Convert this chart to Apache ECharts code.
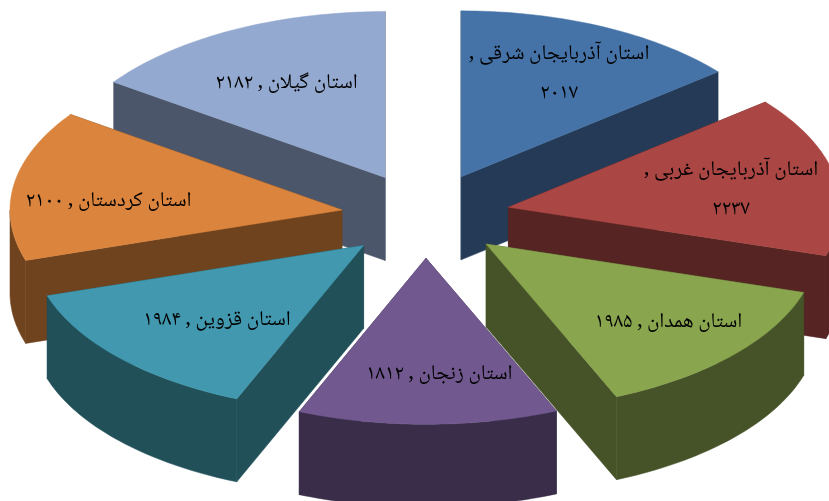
<!DOCTYPE html>
<html lang="fa">
<head>
<meta charset="utf-8">
<style>html,body{margin:0;padding:0;background:#fff}#c{width:829px;height:501px}</style>
<script src="https://cdn.jsdelivr.net/npm/echarts@6/dist/echarts.min.js"></script>
</head>
<body>
<div id="c"></div>
<script>
const provinces = ['استان آذربایجان شرقی','استان آذربایجان غربی','استان همدان','استان زنجان','استان قزوین','استان کردستان','استان گیلان'];
const values = [2017,2237,1985,1812,1984,2100,2182];
const wrapped = [true,true,false,false,false,false,false];
const topColors = ['#4573A7','#AA4643','#89A54E','#71588F','#4198AF','#DB843D','#93A9CF'];
const sideColors = ['#243A57','#562422','#465328','#392D49','#215059','#70431F','#4C566A'];
// layout nudges in pixels, one per slice
const labelNudge = [[0,2],[-2,7],[10,4],[13,4],[24,0],[-5,12],[7,9]];
const sliceNudge = [[0,0],[0,0],[-2,0],[1,0],[2,1],[2,1],[0,0]];

const CX = 424.5, CY = 215.5, RX = 332, RY = 166, DEPTH = 83, EXPLODE = 85.5, LABEL_K = 0.69;
const total = values.reduce((a,b)=>a+b,0);
const faDigits = n => String(n).replace(/\d/g, d => '۰۱۲۳۴۵۶۷۸۹'[d]);
const point = (ox,oy,t,k=1) => [ox + RX*k*Math.sin(t), oy - RY*k*Math.cos(t)];
const shift = p => [p[0], p[1]+DEPTH];
const sampleArc = (ox,oy,a,b,steps) => {
  const pts = [];
  for (let s=0;s<=steps;s++) pts.push(point(ox,oy,a+(b-a)*s/steps));
  return pts;
};

function renderItem(params, api) {
  const i = params.dataIndex;
  let before = 0;
  for (let j=0;j<i;j++) before += api.value(0,j);
  const a0 = before/total*2*Math.PI;
  const a1 = (before+api.value(0))/total*2*Math.PI;
  const mid = (a0+a1)/2;
  const ox = CX + EXPLODE*Math.sin(mid) + sliceNudge[i][0];
  const oy = CY - EXPLODE*0.5*Math.cos(mid) + sliceNudge[i][1];
  const z = Math.round((oy-sliceNudge[i][1])*10);
  const apex = [ox,oy];
  const steps = 40;
  const arc = sampleArc(ox,oy,a0,a1,steps);
  const top = topColors[i], side = sideColors[i];
  const poly = (pts,fill,dz) => ({type:'polygon',z2:z+dz,shape:{points:pts},style:{fill,stroke:fill,lineWidth:0.5}});
  const first = arc[0], last = arc[steps];
  const children = [
    poly([apex,first,shift(first),shift(apex)],side,0),
    poly([apex,last,shift(last),shift(apex)],side,0)
  ];
  // only the front half of the rim faces the viewer
  const f0 = Math.max(a0,Math.PI/2), f1 = Math.min(a1,Math.PI*1.5);
  if (f1 > f0) {
    const rim = sampleArc(ox,oy,f0,f1,steps);
    children.push(poly(rim.concat(rim.slice().reverse().map(shift)),side,1));
  }
  children.push(poly([apex].concat(arc),top,2));
  const lp = point(ox,oy,mid,LABEL_K);
  const n = labelNudge[i];
  const num = faDigits(api.value(0));
  children.push({
    type:'text', z2:10000,
    x: lp[0]+n[0]-sliceNudge[i][0], y: lp[1]+n[1]-sliceNudge[i][1],
    style:{
      text: '\u200f'+provinces[i]+' ,\u200f'+(wrapped[i]?'\n\u200f':' ')+num,
      fill:'#000', font:'21px "Noto Naskh Arabic","Noto Sans Arabic","DejaVu Sans",sans-serif',
      align:'center', verticalAlign:'middle', lineHeight:39
    }
  });
  return {type:'group',children};
}

const chart = echarts.init(document.getElementById('c'),null,{renderer:'canvas'});
chart.setOption({
  animation:false,
  backgroundColor:'#fff',
  series:[{
    type:'custom', coordinateSystem:'none', silent:true, clip:false,
    data: values.map((v,i)=>({name:provinces[i],value:[v]})),
    encode:{value:0},
    renderItem
  }]
});
</script>
</body>
</html>
